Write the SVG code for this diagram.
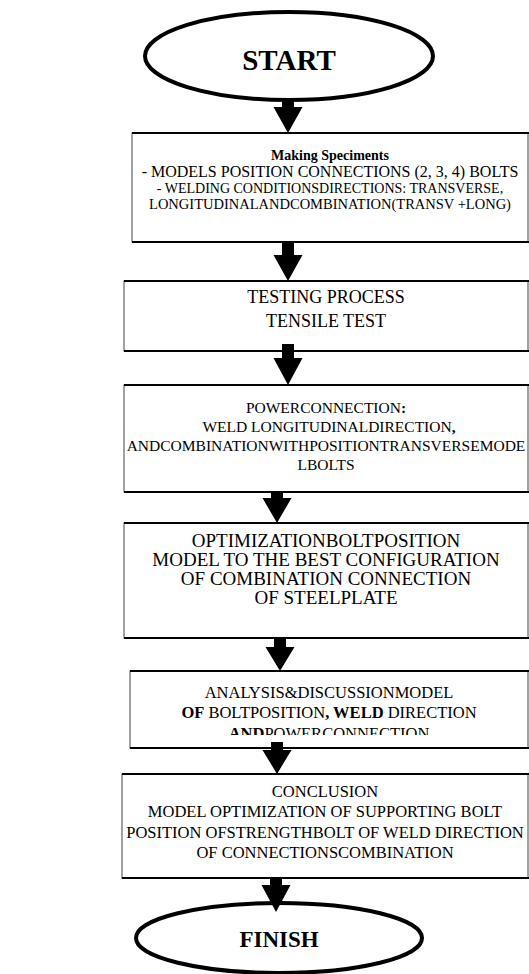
<svg xmlns="http://www.w3.org/2000/svg" width="529" height="974" viewBox="0 0 529 974">
<style>
.t{font-family:"Liberation Serif","Times New Roman",serif;fill:#000;text-anchor:middle}
.b{font-weight:bold}
.box{fill:#fff;stroke:#444;stroke-width:1}
.hl{stroke:#000;stroke-width:2}
.el{fill:#fff;stroke:#000;stroke-width:4}
.ar{fill:#000;stroke:none}
</style>
<defs>
<clipPath id="c5"><rect x="120" y="671" width="409" height="64"/></clipPath>
</defs>
<rect width="529" height="974" fill="#fff"/>
<g id="start">
<ellipse class="el" cx="289" cy="56" rx="144" ry="44"/>
<text class="t b" x="289" y="70" font-size="29">START</text>
</g>
<g id="making">
<rect class="box" x="132" y="133" width="396" height="109"/>
<line class="hl" x1="132" y1="133" x2="529" y2="133"/>
<line class="hl" x1="132" y1="242" x2="529" y2="242"/>
<text class="t b" x="330" y="160" font-size="14">Making Speciments</text>
<text class="t" x="330" y="177" font-size="16">-  MODELS POSITION CONNECTIONS (2, 3, 4) BOLTS</text>
<text class="t" x="330" y="193" font-size="14">-  WELDING CONDITIONSDIRECTIONS: TRANSVERSE,</text>
<text class="t" x="330" y="209" font-size="14.5">LONGITUDINALANDCOMBINATION(TRANSV +LONG)</text>
</g>
<g id="testing">
<rect class="box" x="124" y="281" width="404" height="70"/>
<line class="hl" x1="124" y1="281" x2="529" y2="281"/>
<line class="hl" x1="124" y1="351" x2="529" y2="351"/>
<text class="t" x="326" y="303" font-size="18">TESTING PROCESS</text>
<text class="t" x="326" y="327" font-size="18">TENSILE TEST</text>
</g>
<g id="power">
<rect class="box" x="124" y="385" width="404" height="107"/>
<line class="hl" x1="124" y1="385" x2="529" y2="385"/>
<line class="hl" x1="124" y1="492" x2="529" y2="492"/>
<text class="t" x="326" y="413" font-size="15.5">POWERCONNECTION<tspan class="b">:</tspan></text>
<text class="t" x="329" y="432" font-size="15.5">WELD LONGITUDINALDIRECTION<tspan class="b">,</tspan></text>
<text class="t" x="326" y="451" font-size="15.5">ANDCOMBINATIONWITHPOSITIONTRANSVERSEMODE</text>
<text class="t" x="326" y="470" font-size="15.5">LBOLTS</text>
</g>
<g id="optimization">
<rect class="box" x="124" y="523" width="404" height="115"/>
<line class="hl" x1="124" y1="523" x2="529" y2="523"/>
<line class="hl" x1="124" y1="638" x2="529" y2="638"/>
<text class="t" x="326" y="547" font-size="19">OPTIMIZATIONBOLTPOSITION</text>
<text class="t" x="326" y="566" font-size="19">MODEL TO THE BEST CONFIGURATION</text>
<text class="t" x="326" y="585" font-size="19">OF COMBINATION CONNECTION</text>
<text class="t" x="326" y="604" font-size="19">OF STEELPLATE</text>
</g>
<g id="analysis">
<rect class="box" x="130" y="671" width="398" height="77"/>
<line class="hl" x1="130" y1="671" x2="529" y2="671"/>
<line class="hl" x1="130" y1="748" x2="529" y2="748"/>
<text class="t" x="329" y="698" font-size="16.5">ANALYSIS&amp;DISCUSSIONMODEL</text>
<text class="t" x="329" y="718" font-size="16.5"><tspan class="b">OF</tspan> BOLTPOSITION<tspan class="b">, WELD</tspan> DIRECTION</text>
<text class="t" x="329" y="739" font-size="16.5" clip-path="url(#c5)"><tspan class="b">AND</tspan>POWERCONNECTION</text>
</g>
<g id="conclusion">
<rect class="box" x="122" y="774" width="406" height="104"/>
<line class="hl" x1="122" y1="774" x2="529" y2="774"/>
<line class="hl" x1="122" y1="878" x2="529" y2="878"/>
<text class="t" x="325" y="797" font-size="16.5">CONCLUSION</text>
<text class="t" x="325" y="817" font-size="16.5">MODEL OPTIMIZATION OF SUPPORTING BOLT</text>
<text class="t" x="325" y="838" font-size="16.5">POSITION OFSTRENGTHBOLT OF WELD DIRECTION</text>
<text class="t" x="325" y="858" font-size="16.5">OF CONNECTIONSCOMBINATION</text>
</g>
<g id="finish">
<ellipse class="el" cx="279" cy="938" rx="143" ry="35"/>
<text class="t b" x="279" y="947" font-size="23">FINISH</text>
</g>
<g id="connectors">
<path class="ar" d="M282,100 H294 V107 H302.5 L288,133 L273.5,107 H282 Z"/>
<path class="ar" d="M282,242 H294 V255 H302.5 L288,281 L273.5,255 H282 Z"/>
<path class="ar" d="M282,344 H294 V358 H302.5 L288,385 L273.5,358 H282 Z"/>
<path class="ar" d="M271,492 H283 V498 H291.5 L277,523 L262.5,498 H271 Z"/>
<path class="ar" d="M274,638 H286 V647 H294.5 L280,671 L265.5,647 H274 Z"/>
<path class="ar" d="M271,742 H283 V750 H291.5 L277,774 L262.5,750 H271 Z"/>
<path class="ar" d="M270,878 H282 V885 H290.5 L276,912 L261.5,885 H270 Z"/>
</g>
</svg>
